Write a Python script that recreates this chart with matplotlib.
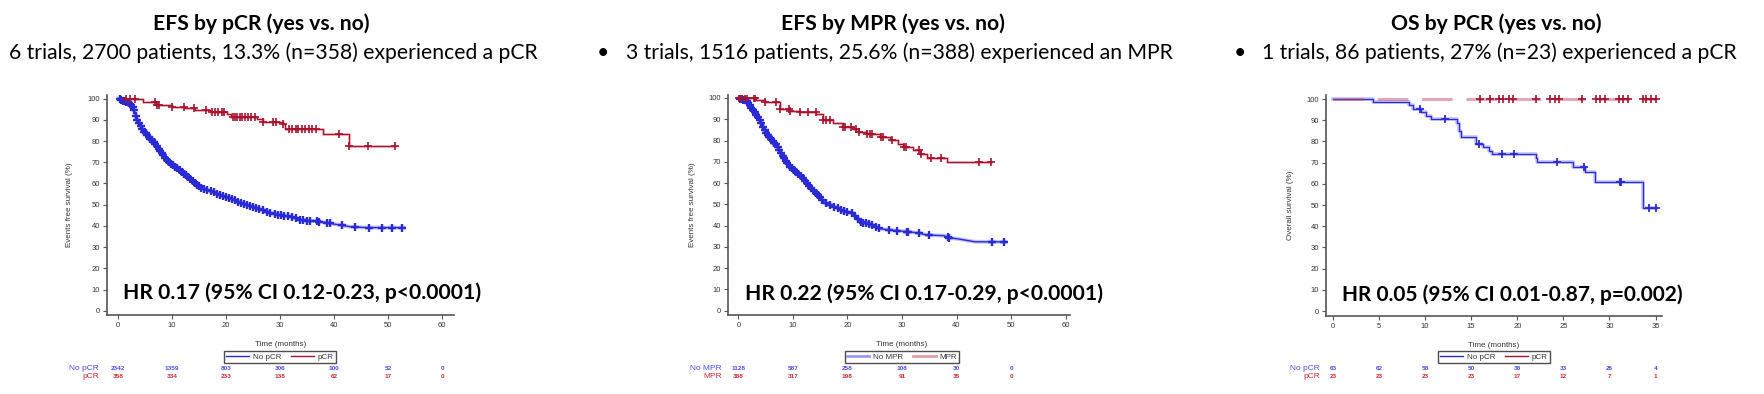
import numpy as np
import matplotlib
matplotlib.use("Agg")
import matplotlib.pyplot as plt
from matplotlib.transforms import blended_transform_factory
from matplotlib.lines import Line2D

W, H = 1764, 394
BLUE = "#2b2bd6"
BLUE_L = "#9a9af0"
RED = "#a8122c"
RED_L = "#e0a0a8"
RISK_BLUE = "#4a4af0"
RISK_RED = "#cc2a40"

# ---------------- Panel 1: EFS by pCR ----------------
p1_no_t = [0, 1.0, 2.0, 2.5, 3.0, 3.4, 4.0, 4.6, 5.5, 6.5, 7.7, 9.0, 10.0, 11.4, 12.5, 13.6, 14.6,
           15.5, 17.6, 20.1, 22.6, 25.0, 27.5, 30.0, 32.5, 33.7, 37.5, 39.9, 43.0, 46.0, 52.9]
p1_no_s = [100, 99, 98, 97, 94.5, 90.7, 88, 85, 82.5, 79.7, 75.8, 71, 69, 66.4, 64, 61.6, 59.5,
           57.7, 56, 53.5, 51, 49, 46.7, 45.1, 44, 42.8, 42, 40.9, 39.6, 39.2, 39.2]
p1_no_c = [0.3, 0.6, 0.9, 1.2, 1.5, 1.8, 2.1, 2.4, 2.7, 3.0, 3.3, 3.6, 3.9, 4.2, 4.5, 4.8, 5.1, 5.4,
           5.7, 6.0, 6.3, 6.6, 6.9, 7.2, 7.5, 7.8, 8.1, 8.4, 8.7, 9.0, 9.4, 9.8, 10.2, 10.6, 11.0,
           11.4, 11.8, 12.2, 12.6, 13.0, 13.4, 13.8, 14.2, 14.6, 15.0, 15.4, 15.9, 16.5, 17.3, 17.8,
           18.4, 18.9, 19.5, 20.0, 20.6, 21.1, 21.6, 22.2, 22.8, 23.3, 23.9, 24.4, 25.0, 25.6, 26.1,
           26.8, 27.5, 28.2, 29.0, 29.6, 30.2, 30.8, 31.5, 32.2, 33.0, 33.6, 34.2, 35.0, 35.5, 36.8,
           37.2, 38.6, 39.2, 41.5, 43.9, 46.4, 48.9, 50.7, 52.5]
p1_yes_t = [0, 4.6, 7.1, 10.0, 12.4, 14.2, 17.0, 20.1, 21.0, 25.7, 26.9, 30.6, 30.9, 38.0, 42.7, 51.3]
p1_yes_s = [100, 98.5, 97, 96.2, 95.6, 94.7, 93.6, 92.6, 91.2, 90.3, 89.2, 88.2, 85.7, 83.3, 77.8, 77.8]
p1_yes_c = [1.5, 2.3, 3.1, 6.8, 7.3, 7.6, 10.0, 12.3, 14.1, 16.2, 17.4, 18.0, 18.6, 19.2, 19.6,
            21.2, 21.6, 22.0, 22.5, 23.0, 23.6, 24.0, 24.6, 25.3, 26.9, 28.6, 29.2, 30.6, 31.6,
            32.2, 32.9, 33.4, 34.0, 34.7, 35.4, 36.0, 36.6, 41.0, 42.8, 46.2, 51.3]
p1_ticks = [0, 10, 20, 30, 40, 50, 60]
p1_risk_no = [2342, 1359, 803, 306, 100, 52, 0]
p1_risk_yes = [358, 334, 233, 138, 62, 17, 0]

# ---------------- Panel 2: EFS by MPR ----------------
p2_no_t = [0, 1.5, 2.7, 3.9, 5.1, 7.0, 8.2, 9.4, 11.3, 13.1, 14.9, 15.8, 17.4, 19.2, 21.0, 22.3,
           24.1, 25.6, 27.8, 31.4, 33.3, 34.5, 37.6, 38.8, 40.9, 43.4, 48.9]
p2_no_s = [100, 98.7, 94.4, 89.7, 83.4, 77.9, 72.4, 67.7, 63.8, 58.3, 53.6, 50.8, 49.2, 46.9, 45.8,
           41.8, 40.8, 38.7, 37.9, 37.1, 36.4, 35.6, 35.3, 34.3, 33.5, 32.4, 32.4]
p2_no_c = [0.3, 0.6, 0.9, 1.2, 1.5, 1.8, 2.1, 2.4, 2.7, 3.0, 3.3, 3.6, 3.9, 4.2, 4.5, 4.8, 5.1, 5.4,
           5.7, 6.0, 6.3, 6.6, 6.9, 7.2, 7.5, 7.8, 8.1, 8.4, 8.7, 9.0, 9.4, 9.8, 10.2, 10.6, 11.0,
           11.4, 11.8, 12.2, 12.6, 13.0, 13.4, 13.8, 14.2, 14.6, 15.0, 15.4, 16.0, 16.8, 17.6, 18.2,
           18.8, 19.4, 20.0, 20.8, 21.4, 21.9, 22.4, 22.9, 23.4, 24.0, 24.5, 25.2, 25.7, 27.6, 29.1,
           30.9, 31.1, 33.2, 34.9, 38.4, 38.7, 46.5, 48.7]
p2_yes_t = [0, 3.3, 4.8, 7.6, 9.4, 11.3, 14.3, 15.5, 17.4, 19.2, 21.0, 21.9, 23.5, 25.9, 27.8, 29.3,
            30.2, 32.1, 33.3, 34.5, 38.2, 46.4]
p2_yes_s = [100, 99.2, 98.1, 94.7, 94, 93.4, 92.5, 89.7, 88.1, 86.5, 85.3, 84.2, 83.1, 81.5, 80.3,
            78.2, 77.1, 75.5, 73.7, 71.6, 69.9, 69.9]
p2_yes_c = [0.2, 0.5, 1.2, 1.5, 2.8, 3.0, 4.8, 6.9, 7.6, 9.2, 9.5, 11.3, 12.7, 14.2, 15.5, 16.0,
            16.8, 19.2, 19.6, 20.6, 21.5, 22.2, 23.6, 24.1, 24.5, 26.2, 26.6, 28.1, 30.3, 30.7,
            33.2, 33.5, 35.4, 37.2, 44.2, 46.3]
p2_ticks = [0, 10, 20, 30, 40, 50, 60]
p2_risk_no = [1128, 587, 258, 108, 30, 0]
p2_risk_yes = [388, 317, 198, 91, 35, 0]

# ---------------- Panel 3: OS by pCR ----------------
p3_no_t = [0, 4.3, 8.2, 8.7, 9.6, 10.1, 10.6, 13.5, 13.7, 13.9, 15.5, 16.3, 16.9, 17.3, 22.0, 22.1,
           26.0, 27.3, 28.4, 33.6, 35.0]
p3_no_s = [100, 98.4, 97, 95.3, 93.7, 92, 90.5, 88.5, 85, 82.3, 79, 77.6, 75.7, 74, 72.1, 70.2,
           67.8, 65.5, 61, 48.7, 48.7]
p3_no_c = [9.4, 12.2, 15.9, 18.3, 19.6, 24.3, 27.2, 31.1, 31.2, 34.3, 35.0]
p3_yes_t = [0, 35.0]
p3_yes_s = [100, 100]
p3_yes_c = [16.0, 17.0, 18.0, 18.5, 19.1, 19.5, 22.0, 23.5, 24.1, 24.5, 27.0, 28.5, 29.0, 29.5,
            31.0, 31.5, 32.0, 33.6, 34.0, 34.5, 35.0]
p3_ticks = [0, 5, 10, 15, 20, 25, 30, 35]
p3_risk_no = [63, 62, 58, 50, 38, 33, 26, 4]
p3_risk_yes = [23, 23, 23, 23, 17, 12, 7, 1]

titles = ["EFS by pCR (yes vs. no)", "EFS by MPR (yes vs. no)", "OS by PCR (yes vs. no)"]
subtitles = ["6 trials, 2700 patients, 13.3% (n=358) experienced a pCR",
             "3 trials, 1516 patients, 25.6% (n=388) experienced an MPR",
             "1 trials, 86 patients, 27% (n=23) experienced a pCR"]
hr_texts = ["HR 0.17 (95% CI 0.12-0.23, p<0.0001)",
            "HR 0.22 (95% CI 0.17-0.29, p<0.0001)",
            "HR 0.05 (95% CI 0.01-0.87, p=0.002)"]
ylabels = ["Events free survival (%)", "Events free survival (%)", "Overall survival (%)"]
group_names = [("No pCR", "pCR"), ("No MPR", "MPR"), ("No pCR", "pCR")]

fig = plt.figure(figsize=(W / 100, H / 100), dpi=100)


def fx(px):
    return px / W


def fy(py):
    return 1 - py / H


def step_at(ts, ss, c):
    ts = np.asarray(ts)
    ss = np.asarray(ss)
    idx = np.searchsorted(ts, np.asarray(c), side="right") - 1
    idx = np.clip(idx, 0, len(ss) - 1)
    return ss[idx]


panels = [
    dict(box=(107, 454, 95, 315), xlim=(-2.04, 62.2), ylim=(-2, 101.7),
         no=(p1_no_t, p1_no_s, p1_no_c), yes=(p1_yes_t, p1_yes_s, p1_yes_c),
         ticks=p1_ticks, rno=p1_risk_no, ryes=p1_risk_yes, smooth_no=True,
         title_x=261, sub_x=9, bullet=None, hr_x=123, hr_y=293, hr_size=15.2,
         ylab_x=-0.098, xlab_x=0.499, leg_x=280, risk_lab_x=99, light_leg=False, dashed_yes=False),
    dict(box=(728, 1070, 95, 315), xlim=(-1.9, 60.8), ylim=(-2, 101.4),
         no=(p2_no_t, p2_no_s, p2_no_c), yes=(p2_yes_t, p2_yes_s, p2_yes_c),
         ticks=p2_ticks, rno=p2_risk_no, ryes=p2_risk_yes, smooth_no=True,
         title_x=893, sub_x=626, bullet=603, hr_x=745, hr_y=294, hr_size=15.2,
         ylab_x=-0.094, xlab_x=0.508, leg_x=902, risk_lab_x=722, light_leg=True, dashed_yes=False),
    dict(box=(1326, 1662, 95, 315.7), xlim=(-0.75, 35.7), ylim=(-2.2, 101.9),
         no=(p3_no_t, p3_no_s, p3_no_c), yes=(p3_yes_t, p3_yes_s, p3_yes_c),
         ticks=p3_ticks, rno=p3_risk_no, ryes=p3_risk_yes, smooth_no=False,
         title_x=1496, sub_x=1262, bullet=1240, hr_x=1342, hr_y=295, hr_size=15.0,
         ylab_x=-0.096, xlab_x=0.5, leg_x=1494, risk_lab_x=1320, light_leg=False, dashed_yes=True),
]

TITLE_SIZE = 15.2

for i, P in enumerate(panels):
    l, r, t, b = P["box"]
    ax = fig.add_axes([fx(l), fy(b), fx(r - l), (b - t) / H])
    ax.set_xlim(*P["xlim"])
    ax.set_ylim(*P["ylim"])
    for s in ["top", "right"]:
        ax.spines[s].set_visible(False)
    for s in ["left", "bottom"]:
        ax.spines[s].set_color("#555555")
        ax.spines[s].set_linewidth(1.2)
    ax.set_xticks(P["ticks"])
    ax.set_yticks(range(0, 101, 10))
    ax.tick_params(axis="both", length=3, width=0.8, color="#555555", labelsize=5.5,
                   labelcolor="#333333", pad=2)
    for lab in ax.get_xticklabels() + ax.get_yticklabels():
        lab.set_fontfamily("Liberation Sans")
    ax.set_ylabel(ylabels[i], fontsize=5.8, family="Liberation Sans", color="#333333")
    ax.yaxis.set_label_coords(P["ylab_x"], 0.5)
    ax.set_xlabel("Time (months)", fontsize=5.8, family="Liberation Sans", color="#333333")
    ax.xaxis.set_label_coords(P["xlab_x"], -0.118)

    nt, ns, nc = P["no"]
    yt, ys, yc = P["yes"]
    # No-response curve
    if P["smooth_no"]:
        ax.plot(nt, ns, color=BLUE_L, lw=2.8, alpha=0.6, zorder=2)
        ax.plot(nt, ns, color=BLUE, lw=1.0, zorder=3)
        ax.plot(nc, np.interp(nc, nt, ns), ls="none", marker="+", ms=6.2, mew=1.7,
                color=BLUE, zorder=4)
    else:
        ax.step(nt, ns, where="post", color=BLUE_L, lw=2.6, alpha=0.6, zorder=2)
        ax.step(nt, ns, where="post", color=BLUE, lw=0.9, zorder=3)
        ax.plot(nc, step_at(nt, ns, nc), ls="none", marker="+", ms=5.5, mew=1.3,
                color=BLUE, zorder=4)
    # Response curve
    if P["dashed_yes"]:
        ax.step(yt, ys, where="post", color="#c05070", lw=2.2, alpha=0.5, zorder=5,
                dashes=(10, 4.5))
    else:
        ax.step(yt, ys, where="post", color=RED_L, lw=2.2, alpha=0.6, zorder=2)
        ax.step(yt, ys, where="post", color=RED, lw=0.9, zorder=3)
    ax.plot(yc, step_at(yt, ys, yc), ls="none", marker="+", ms=5.5, mew=1.2, color=RED, zorder=6)

    # legend
    if P["light_leg"]:
        handles = [Line2D([], [], color=BLUE_L, lw=2), Line2D([], [], color=RED_L, lw=2)]
    else:
        handles = [Line2D([], [], color=BLUE, lw=1), Line2D([], [], color=RED, lw=1)]
    leg = ax.legend(handles, group_names[i], loc="center", ncol=2,
                    bbox_to_anchor=(fx(P["leg_x"]), fy(357)), bbox_transform=fig.transFigure,
                    prop={"family": "Liberation Sans", "size": 5.8}, frameon=True, fancybox=False,
                    handlelength=2.8, handletextpad=0.5, columnspacing=1.2, borderpad=0.25,
                    borderaxespad=0)
    leg.get_frame().set_edgecolor("#222222")
    leg.get_frame().set_linewidth(1.0)
    for txt in leg.get_texts():
        txt.set_color("#333333")

    # risk table
    tr = blended_transform_factory(ax.transData, fig.transFigure)
    for k, v in enumerate(P["rno"]):
        ax.text(P["ticks"][k], fy(368), str(v), transform=tr, ha="center", va="center",
                fontsize=4.6, fontweight="bold", color=RISK_BLUE, family="Liberation Sans")
    for k, v in enumerate(P["ryes"]):
        ax.text(P["ticks"][k], fy(377), str(v), transform=tr, ha="center", va="center",
                fontsize=4.6, fontweight="bold", color=RISK_RED, family="Liberation Sans")
    fig.text(fx(P["risk_lab_x"]), fy(368), group_names[i][0], ha="right", va="center",
             fontsize=6, color=RISK_BLUE, family="Liberation Sans")
    fig.text(fx(P["risk_lab_x"]), fy(377), group_names[i][1], ha="right", va="center",
             fontsize=6, color=RISK_RED, family="Liberation Sans")

    # HR text
    fig.text(fx(P["hr_x"]), fy(P["hr_y"]), hr_texts[i], ha="left", va="center",
             fontsize=P["hr_size"], fontweight="bold", family="Lato", color="black")

    # titles
    fig.text(fx(P["title_x"]), fy(30), titles[i], ha="center", va="baseline",
             fontsize=TITLE_SIZE, fontweight="bold", family="Lato", color="black")
    if P["bullet"] is not None:
        fig.text(fx(P["bullet"]), fy(59), "\u2022", ha="center", va="baseline",
                 fontsize=TITLE_SIZE, family="Lato", color="black")
    fig.text(fx(P["sub_x"]), fy(59), subtitles[i], ha="left", va="baseline",
             fontsize=TITLE_SIZE, family="Lato", color="black")

fig.savefig("out.png", dpi=100, facecolor="white")
